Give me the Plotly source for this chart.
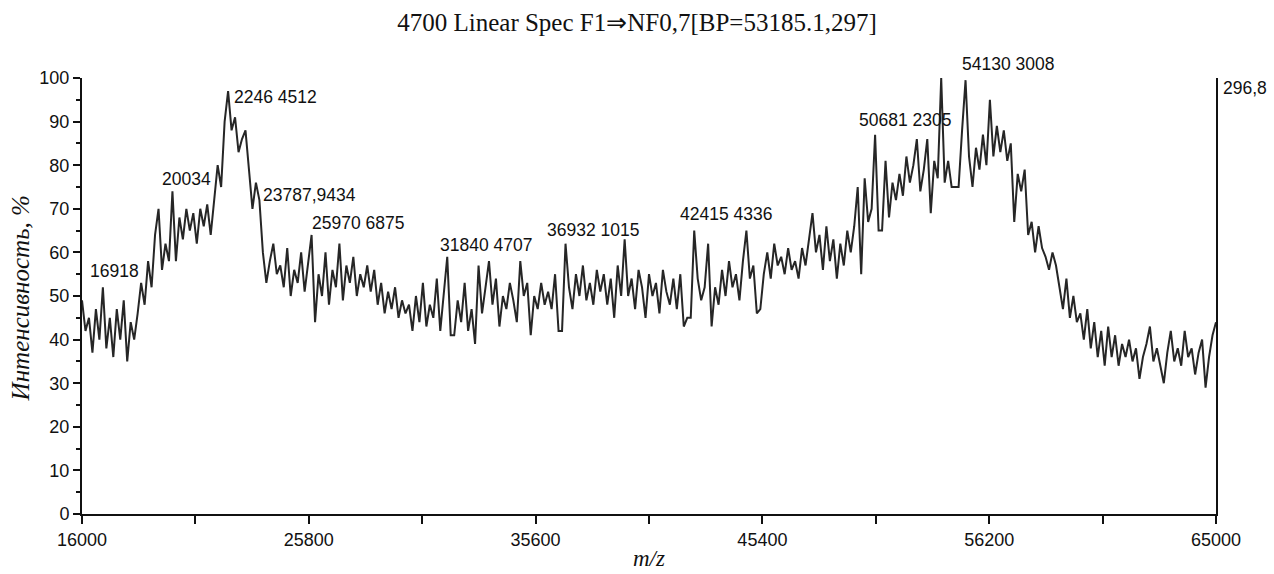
import numpy as np
import plotly.graph_objects as go

# ---- data ----
mz_start = 16000
mz_end = 65000
intensity = [
    49, 42, 45, 37, 47, 40, 52, 38, 45, 36, 47, 40, 49, 35, 44, 40,
    46, 53, 48, 58, 52, 64, 70,
    56, 62, 58, 74,
    58, 68, 63, 70, 65, 69, 62, 70, 66, 71, 64,
    72, 80, 75, 90, 97, 88, 91, 83, 86, 88,
    79, 70, 76, 72, 60, 53, 58,
    62, 55, 57, 52, 61, 50, 56, 53, 60, 51, 58, 64,
    44,
    55, 50, 60, 48, 56, 52, 62, 49, 57, 53, 59, 50, 55, 52, 57, 51,
    56, 48, 53, 46, 51, 47, 52, 45, 49, 46, 48, 42,
    50, 44, 53, 43, 48, 45, 54, 42, 50, 59,
    41, 41, 49,
    44, 53, 42, 47, 39,
    57, 46, 52, 58, 48, 54, 43, 50, 47, 53, 49, 44, 58, 50, 53, 41, 50, 47,
    53, 48, 51, 47, 55, 42, 42, 62, 52,
    47, 55, 50, 57, 49, 53, 48, 56, 51, 55, 48, 54, 45, 57, 50,
    63,
    50, 54, 47, 56, 52, 45, 55, 50, 53, 46, 56, 51, 48, 54, 47, 55, 43,
    45, 45,
    65,
    54, 49, 52,
    62,
    43,
    52, 48, 56, 50, 58, 52, 55, 49, 58, 65, 54, 57, 46, 47,
    55, 60, 54, 62, 57, 59, 55, 61, 56, 58, 54, 61, 57, 63,
    69,
    60, 64, 56, 66, 58, 63, 54, 62, 57, 65, 60, 66, 75, 55,
    77, 67, 70,
    87,
    65, 65, 81, 68, 76, 72,
    78, 73, 82, 76, 80, 86, 74, 79, 86, 69, 81, 77,
    100,
    76, 81, 75, 75, 75, 88, 99.5, 82, 75,
    84, 79, 87, 80, 95, 82, 89,
    83, 88, 81, 85, 67,
    78, 74, 79,
    64, 67, 60, 66, 61,
    59, 56, 60, 57,
    52, 47, 54, 45, 50, 44,
    46, 40, 47, 38, 44, 36, 42, 34,
    43, 36, 41, 34, 39, 36, 40, 35, 38, 31, 36, 39, 43, 35, 38, 34,
    30, 37, 42, 35, 38, 34, 42, 36, 38, 32, 37, 40, 29, 36, 41, 44,
]
mz = np.linspace(mz_start, mz_end, len(intensity))

x_tick_vals = [16000, 20900, 25800, 30700, 35600, 40500, 45400, 50300, 55200, 60100, 65000]
x_tick_text = ["16000", "", "25800", "", "35600", "", "45400", "", "56200", "", "65000"]

peak_labels = ["16918", "20034", "2246 4512", "23787,9434", "25970 6875",
               "31840 4707", "36932 1015", "42415 4336", "50681 2305", "54130 3008"]
# label placement (m/z of left edge, intensity of text centre)
label_pos_x = [16260, 19370, 22482, 23735, 25852, 31383, 36006, 41753, 49488, 53938]
label_pos_y = [55.7, 76.8, 95.6, 73.2, 66.7, 61.7, 65.1, 68.8, 90.4, 103.2]

title_text = "4700 Linear Spec F1\u21d2NF0,7[BP=53185.1,297]"
y_title = "\u0418\u043d\u0442\u0435\u043d\u0441\u0438\u0432\u043d\u043e\u0441\u0442\u044c, %"
x_title = "m/z"
right_label = "296,8"

Y_MAX = 100

# ---- figure ----
fig = go.Figure()
fig.add_trace(go.Scatter(
    x=mz, y=intensity, mode="lines",
    line=dict(color="#262626", width=2),
    hoverinfo="skip", showlegend=False,
))

sans = "Liberation Sans, Arial, sans-serif"
serif = "Liberation Serif, Times New Roman, serif"

annotations = []
for t, ax, ay in zip(peak_labels, label_pos_x, label_pos_y):
    annotations.append(dict(
        x=ax, y=ay / Y_MAX, xref="x", yref="paper", text=t, showarrow=False,
        xanchor="left", yanchor="middle",
        font=dict(family=sans, size=17.5, color="#111"),
    ))
annotations.append(dict(
    x=1.004, y=0.977, xref="paper", yref="paper", text=right_label, showarrow=False,
    xanchor="left", yanchor="middle",
    font=dict(family=sans, size=17.5, color="#111"),
))
annotations.append(dict(
    x=0.5, y=-0.102, xref="paper", yref="paper", text="<i>" + x_title + "</i>", showarrow=False,
    xanchor="center", yanchor="middle",
    font=dict(family=serif, size=23, color="#111"),
))
annotations.append(dict(
    x=-0.0545, y=0.495, xref="paper", yref="paper", text="<i>" + y_title + "</i>", showarrow=False,
    xanchor="center", yanchor="middle", textangle=-90,
    font=dict(family=serif, size=25, color="#111"),
))

fig.update_layout(
    width=1274, height=574,
    margin=dict(l=82, r=58, t=78, b=60, autoexpand=False),
    paper_bgcolor="white", plot_bgcolor="white",
    title=dict(text=title_text, x=0.5, xanchor="center", y=0.962, yanchor="middle",
               font=dict(family=serif, size=25, color="#111")),
    annotations=annotations,
    showlegend=False,
)
fig.update_xaxes(
    range=[mz_start, mz_end], tickmode="array", tickvals=x_tick_vals, ticktext=x_tick_text,
    showgrid=False, zeroline=False, showline=True, linecolor="#111", linewidth=2,
    ticks="outside", ticklen=8, tickwidth=2, tickcolor="#111", automargin=False,
    tickfont=dict(family=sans, size=18, color="#111"),
)
fig.update_yaxes(
    range=[0, Y_MAX], dtick=10, tick0=0, automargin=False,
    showgrid=False, zeroline=False, showline=True, linecolor="#111", linewidth=2, mirror=True,
    ticks="outside", ticklen=7, tickwidth=2, tickcolor="#111",
    minor=dict(dtick=5, ticks="outside", ticklen=4, tickwidth=1.5, tickcolor="#111"),
    tickfont=dict(family=sans, size=18, color="#111"),
)

fig.write_html("out.html")
